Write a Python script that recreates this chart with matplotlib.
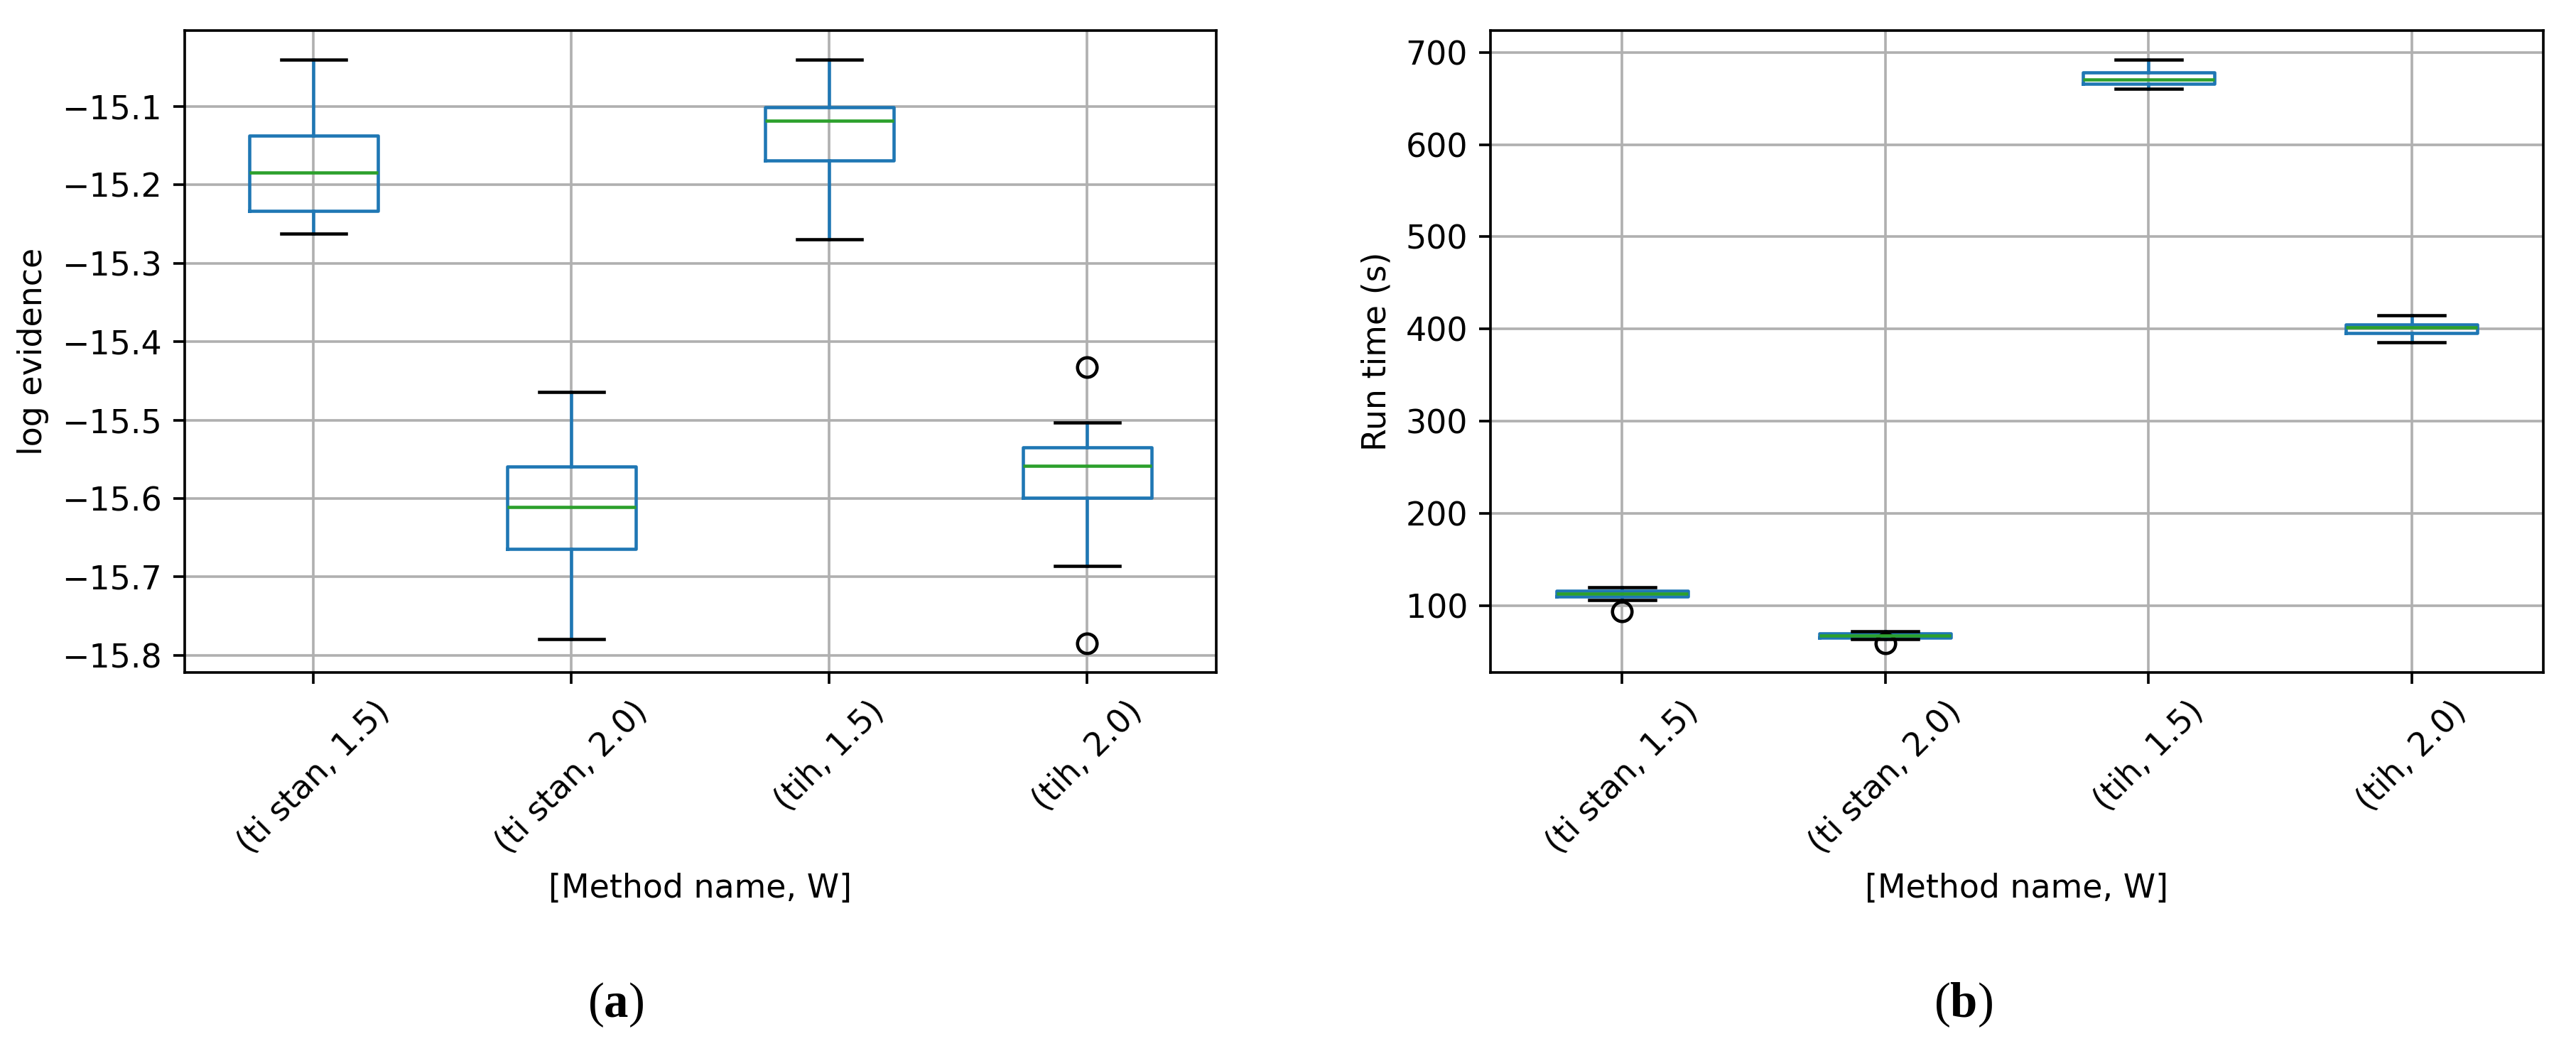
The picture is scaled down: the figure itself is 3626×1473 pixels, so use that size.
import matplotlib
matplotlib.use("Agg")
import matplotlib.pyplot as plt

categories = ["(ti stan, 1.5)", "(ti stan, 2.0)", "(tih, 1.5)", "(tih, 2.0)"]

# log evidence box statistics
ev_whislo = [-15.262, -15.779, -15.269, -15.686]
ev_q1     = [-15.233, -15.664, -15.169, -15.599]
ev_med    = [-15.184, -15.611, -15.118, -15.558]
ev_q3     = [-15.137, -15.559, -15.101, -15.535]
ev_whishi = [-15.040, -15.464, -15.040, -15.503]
ev_fliers = [[], [], [], [-15.432, -15.785]]

# run time box statistics
rt_whislo = [105.9, 63.7, 660.7, 385.4]
rt_q1     = [109.8, 65.1, 666.1, 395.2]
rt_med    = [112.8, 67.6, 670.5, 402.0]
rt_q3     = [115.7, 69.6, 678.4, 405.0]
rt_whishi = [119.6, 72.5, 692.1, 414.8]
rt_fliers = [[93.6], [59.3], [], []]

xlabel = "[Method name, W]"
ylabels = ["log evidence", "Run time (s)"]
captions = ["a", "b"]

plt.rcParams["mathtext.fontset"] = "custom"
plt.rcParams["mathtext.rm"] = "Liberation Serif"
plt.rcParams["mathtext.bf"] = "Liberation Serif:bold"

fig = plt.figure(figsize=(3626 / 330, 1473 / 330), dpi=330)
ax1 = fig.add_axes([0.0717, 0.3571, 0.4004, 0.6137])
ax2 = fig.add_axes([0.5786, 0.3571, 0.4087, 0.6137])


def make_stats(lo, q1, med, q3, hi, fl):
    return [dict(whislo=a, q1=b, med=c, q3=d, whishi=e, fliers=f, label=lab)
            for a, b, c, d, e, f, lab in zip(lo, q1, med, q3, hi, fl, categories)]


def draw(ax, stats, ylabel):
    ax.bxp(stats, positions=range(1, len(stats) + 1), widths=0.5,
           boxprops=dict(color="C0", linewidth=1.0),
           whiskerprops=dict(color="C0", linewidth=1.0),
           capprops=dict(color="k", linewidth=1.0),
           medianprops=dict(color="C2", linewidth=1.0),
           flierprops=dict(marker="o", markerfacecolor="none",
                           markeredgecolor="k", markersize=6))
    ax.grid(True, color="#b0b0b0", linewidth=0.8)
    ax.set_axisbelow("line")
    ax.set_xticks(range(1, len(stats) + 1))
    ax.set_xticklabels(categories, rotation=45, ha="center")
    ax.set_xlim(0.5, len(stats) + 0.5)
    ax.set_xlabel(xlabel)
    ax.set_ylabel(ylabel)


draw(ax1, make_stats(ev_whislo, ev_q1, ev_med, ev_q3, ev_whishi, ev_fliers), ylabels[0])
draw(ax2, make_stats(rt_whislo, rt_q1, rt_med, rt_q3, rt_whishi, rt_fliers), ylabels[1])

ax1.set_ylim(-15.822, -15.003)
ax2.set_ylim(27.5, 723.6)

for xpos, cap in zip([0.239, 0.762], captions):
    fig.text(xpos, 0.039, r"$\mathrm{(}\mathbf{" + cap + r"}\mathrm{)}$",
             fontsize=15, ha="center", va="center")

fig.savefig("out.png", dpi=330)
